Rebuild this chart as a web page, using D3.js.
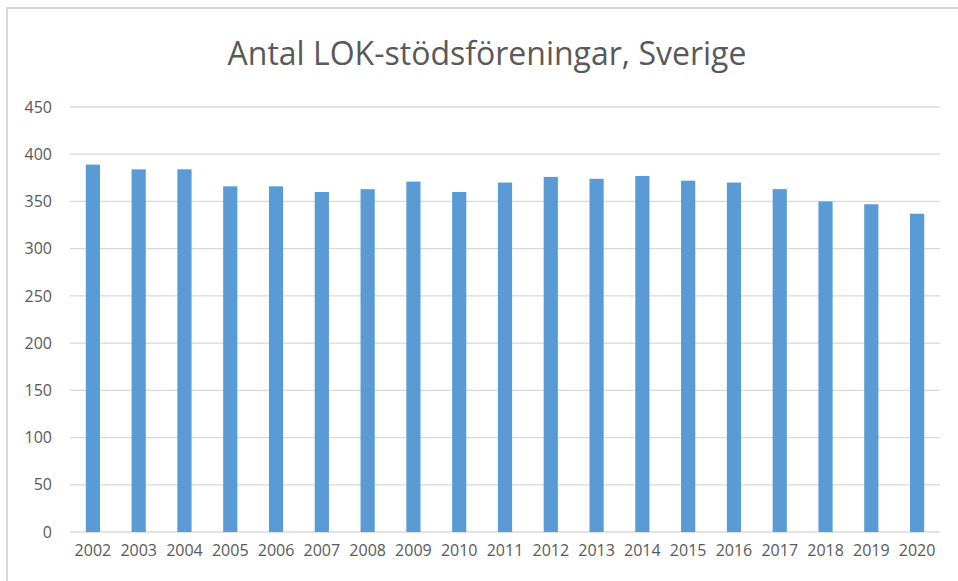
<!DOCTYPE html>
<html>
<head>
<meta charset="utf-8">
<script src="https://cdn.jsdelivr.net/npm/d3@7"></script>
<style>
  body { margin: 0; background: #fff; }
  text { font-family: "Open Sans", sans-serif; fill: #595959; }
</style>
</head>
<body>
<div id="chart"></div>
<script>
var years = ["2002", "2003", "2004", "2005", "2006", "2007", "2008", "2009", "2010", "2011",
  "2012", "2013", "2014", "2015", "2016", "2017", "2018", "2019", "2020"];
var counts = [389, 384, 384, 366, 366, 360, 363, 371, 360, 370,
  376, 374, 377, 372, 370, 363, 350, 347, 337];
var yTicks = [0, 50, 100, 150, 200, 250, 300, 350, 400, 450];
var title = "Antal LOK-stödsföreningar, Sverige";

var W = 958, H = 581;
var margin = { top: 107, right: 18, bottom: 49, left: 70 },
  width = W - margin.left - margin.right,
  height = H - margin.top - margin.bottom;

var root = d3.select("#chart")
  .append("svg")
  .attr("width", W)
  .attr("height", H);

// chart frame
root.append("rect")
  .attr("x", 7).attr("y", 8)
  .attr("width", W).attr("height", H)
  .attr("fill", "none")
  .attr("stroke", "#d9d9d9")
  .attr("stroke-width", 2);

root.append("text")
  .attr("x", 487)
  .attr("y", 65)
  .attr("text-anchor", "middle")
  .style("font-size", "32px")
  .text(title);

var svg = root.append("g")
  .attr("transform", "translate(" + margin.left + "," + margin.top + ")");

var x = d3.scaleBand()
  .domain(years)
  .range([0, width])
  .paddingInner(0.69)
  .paddingOuter(0.345);

var y = d3.scaleLinear()
  .domain([0, 450])
  .range([height, 0]);

// gridlines
svg.append("g")
  .selectAll("line")
  .data(yTicks)
  .enter()
  .append("line")
  .attr("x1", 0)
  .attr("x2", width)
  .attr("y1", function (d) { return y(d); })
  .attr("y2", function (d) { return y(d); })
  .attr("stroke", "#d9d9d9")
  .attr("stroke-width", 1.3);

var yAxis = svg.append("g")
  .call(d3.axisLeft(y).tickValues(yTicks).tickSize(0).tickPadding(18));
yAxis.select(".domain").remove();
yAxis.selectAll("text")
  .style("font-size", "16px")
  .style("font-family", "Open Sans")
  .attr("fill", "#595959");

svg.append("g")
  .selectAll("rect")
  .data(counts)
  .enter()
  .append("rect")
  .attr("x", function (d, i) { return x(years[i]); })
  .attr("y", function (d) { return y(d); })
  .attr("width", x.bandwidth())
  .attr("height", function (d) { return height - y(d); })
  .attr("fill", "#5b9bd5");

var xAxis = svg.append("g")
  .attr("transform", "translate(0," + height + ")")
  .call(d3.axisBottom(x).tickSize(0).tickPadding(13));
xAxis.select(".domain").remove();
xAxis.selectAll("text")
  .style("font-size", "16px")
  .style("font-family", "Open Sans")
  .attr("fill", "#595959");
</script>
</body>
</html>
